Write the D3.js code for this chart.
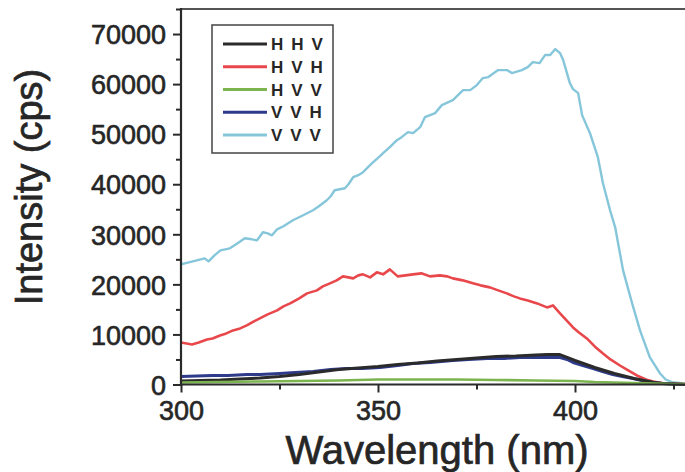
<!DOCTYPE html>
<html>
<head>
<meta charset="utf-8">
<script src="https://cdn.jsdelivr.net/npm/d3@7"></script>
<style>
  html, body { margin: 0; padding: 0; background: #fff; }
  svg { display: block; }
  text { font-family: "Liberation Sans", Arial, Helvetica, sans-serif; fill: #262626; }
</style>
</head>
<body>
<svg id="chart" width="685" height="472"></svg>
<script>
// ---- data ----
const seriesNames = ["H H V", "H V H", "H V V", "V V H", "V V V"];
const seriesColors = ["#2b2b2b", "#e8484b", "#7cb550", "#2e3a8a", "#86c6da"];

const wlHHV = [300,305,310,315,320,325,330,335,340,345,350,355,360,365,370,375,380,385,390,393,396,398,400,402.5,405,407.5,410,412.5,415,417.5,420,422.5,425,428];
const vHHV  = [700,800,900,1100,1300,1600,2000,2500,3000,3300,3600,4000,4300,4700,5000,5300,5600,5700,5900,6000,6000,5400,4800,4100,3400,2800,2200,1700,1200,800,400,200,100,0];

const wlHVH = [300,302.8,304.5,306.6,308,309.9,311.5,313.2,315,316.7,318.5,320,322,324.4,326,327.7,330,332,334.5,336,337.8,339.5,341.1,342.5,343.7,345,346.2,348,349.7,351.3,353,355,357,358.9,361,363.2,365.7,367.5,369,371.5,374.1,376,378.4,380.5,382.7,384.5,386,388,390.4,392.9,394.4,396.2,399.5,401,403,405,407.1,409,411.4,413.5,415.7,418,419.8,422,424.9,428];
const vHVH  = [8400,8000,8400,9000,9200,9800,10200,10800,11200,11800,12600,13200,14000,14800,15600,16200,17200,18200,18800,19600,20200,20800,21600,21400,21200,21800,22000,21400,22400,22000,23000,21600,21800,22000,22200,21600,21800,21600,21200,20800,20200,19800,19400,18800,18200,17600,17200,16800,16200,15400,15800,14200,11400,10400,9200,7600,6200,5000,3800,2800,1800,1000,600,300,200,100];

const wlHVV = [300,310,320,330,340,350,360,370,380,390,400,405,410,415,420,425,428];
const vHVV  = [400,500,600,700,800,1000,1000,1000,900,800,700,500,400,300,200,100,100];

const wlVVH = [300,304,308,312,316.7,320,325,329,333.5,338,342,346,350.5,355,358.9,363.2,369,373,377.7,382,386,391,396.2,398,399.5,402,404.6,407,409.6,412,414.7,417,419.8,422,425,428];
const vVVH  = [1600,1700,1800,1800,2000,2000,2200,2400,2600,3000,3200,3200,3400,3800,4200,4400,4800,5000,5200,5200,5400,5400,5400,5000,4400,3800,3200,2600,2000,1600,1200,800,400,200,100,0];

const wlVVV = [300,302,304,306,307,308.5,310,312.4,314,316.2,318,319.3,320.8,322,323.1,324.4,326,328.4,331,333.5,335,337,338,339,341.6,342.5,343.7,345,346.2,348.5,350.5,351.3,353,354.8,356,357.6,358.9,360.7,361.9,364.5,366.2,369,371.6,373.4,375.1,376.6,378,380.5,382.7,384,386.5,388,389.3,391,392.4,393.7,395,396.2,397,398.7,399.5,400.8,401.8,403.8,405.8,407.1,408.9,410.2,412.2,414.5,416.5,419,421.6,423,424.9,428];
const vVVV  = [24000,24400,24800,25200,24600,25800,26800,27200,28000,29200,29000,28800,30400,30200,29800,31000,31600,32800,33800,34800,35600,36800,37600,38800,39200,40000,41400,41800,42400,44200,45600,46200,47400,48800,49400,50400,50200,51400,53400,54200,55800,56800,58800,58800,59800,61200,61400,62800,62800,62200,62800,63400,64400,64200,65800,65800,67000,66200,64800,60200,59000,58200,53800,50200,45400,40200,34800,31400,22800,16200,10800,5400,2200,1000,400,200];

const xTicks = [300, 350, 400];
const xMinorTicks = [325, 375, 425];
const yTicks = [0, 10000, 20000, 30000, 40000, 50000, 60000, 70000];
const yMinorTicks = [5000, 15000, 25000, 35000, 45000, 55000, 65000, 75000];

const xTitle = "Wavelength (nm)";
const yTitle = "Intensity (cps)";

// ---- chart ----
const svg = d3.select("#chart");
const W = 685, H = 472;
const plotLeft = 181, plotBottom = 384.5, plotTop = 9;
const textColor = "#262626";

const x = d3.scaleLinear().domain([300, 430]).range([plotLeft, plotLeft + 130 * 3.94]);
const y = d3.scaleLinear().domain([0, 75000]).range([plotBottom, plotTop]);

svg.append("rect").attr("width", W).attr("height", H).attr("fill", "#fff");

svg.append("defs").append("clipPath").attr("id", "plotclip")
  .append("rect").attr("x", plotLeft).attr("y", plotTop).attr("width", W - plotLeft).attr("height", plotBottom - plotTop + 2);

const seriesData = [
  [wlHHV, vHHV], [wlHVH, vHVH], [wlHVV, vHVV], [wlVVH, vVVH], [wlVVV, vVVV]
];
const widths = [3, 2.6, 2.6, 3, 2.4];

const line = d3.line().x(d => x(d[0])).y(d => y(d[1])).curve(d3.curveLinear);
const plot = svg.append("g").attr("clip-path", "url(#plotclip)");
// draw order: VVV, HVH, VVH, HHV, HVV
[4, 1, 3, 0, 2].forEach(i => {
  const pts = seriesData[i][0].map((w, k) => [w, seriesData[i][1][k]]);
  plot.append("path").datum(pts)
    .attr("d", line)
    .attr("fill", "none")
    .attr("stroke", seriesColors[i])
    .attr("stroke-width", widths[i])
    .attr("stroke-linejoin", "round");
});

// top frame line
svg.append("line").attr("x1", plotLeft).attr("x2", W).attr("y1", plotTop).attr("y2", plotTop)
  .attr("stroke", "#555").attr("stroke-width", 2);

// axes
const axisColor = "#2a2a2a";
const xAxis = svg.append("g").attr("transform", `translate(0,${plotBottom})`)
  .call(d3.axisBottom(x).tickValues(xTicks).tickSize(8).tickPadding(8).tickFormat(d3.format("d")));
const xMinor = svg.append("g").attr("transform", `translate(0,${plotBottom})`)
  .call(d3.axisBottom(x).tickValues(xMinorTicks).tickSize(5).tickFormat(""));
const yAxis = svg.append("g").attr("transform", `translate(${plotLeft},0)`)
  .call(d3.axisLeft(y).tickValues(yTicks).tickSize(8).tickPadding(7).tickFormat(d3.format("d")));
const yMinor = svg.append("g").attr("transform", `translate(${plotLeft},0)`)
  .call(d3.axisLeft(y).tickValues(yMinorTicks).tickSize(5).tickFormat(""));

[xAxis, xMinor, yAxis, yMinor].forEach(g => {
  g.select(".domain").remove();
  g.selectAll(".tick line").attr("stroke", axisColor).attr("stroke-width", 2);
  g.selectAll(".tick text").attr("font-size", 27).attr("fill", textColor)
    .attr("stroke", textColor).attr("stroke-width", 0.6)
    .attr("font-family", "'Liberation Sans', Arial, sans-serif");
});
yAxis.selectAll(".tick text").attr("dy", "0.36em");
xAxis.selectAll(".tick text").attr("dy", "0.71em");

svg.append("line").attr("x1", plotLeft).attr("x2", plotLeft).attr("y1", plotTop - 1).attr("y2", plotBottom + 1)
  .attr("stroke", axisColor).attr("stroke-width", 2.2);
svg.append("line").attr("x1", plotLeft - 1).attr("x2", W).attr("y1", plotBottom).attr("y2", plotBottom)
  .attr("stroke", axisColor).attr("stroke-width", 2.2);

// titles
svg.append("text").attr("x", 437).attr("y", 464).attr("text-anchor", "middle")
  .attr("font-size", 40).attr("stroke", textColor).attr("stroke-width", 0.7).text(xTitle);
svg.append("text").attr("transform", "translate(42,187) rotate(-90)").attr("text-anchor", "middle")
  .attr("font-size", 38).attr("stroke", textColor).attr("stroke-width", 0.7).text(yTitle);

// legend
const lg = svg.append("g");
lg.append("rect").attr("x", 212).attr("y", 25).attr("width", 121).attr("height", 128)
  .attr("fill", "#fff").attr("stroke", "#444").attr("stroke-width", 1.5);
const ly = d3.scalePoint().domain(seriesNames).range([44, 135]);
seriesNames.forEach((n, i) => {
  lg.append("line").attr("x1", 223).attr("x2", 267).attr("y1", ly(n)).attr("y2", ly(n))
    .attr("stroke", seriesColors[i]).attr("stroke-width", 3);
  lg.append("text").attr("x", 271).attr("y", ly(n)).attr("dy", "0.36em")
    .attr("font-size", 17).attr("font-weight", "bold").attr("letter-spacing", 1.6)
    .attr("fill", "#333").text(n);
});
</script>
</body>
</html>
